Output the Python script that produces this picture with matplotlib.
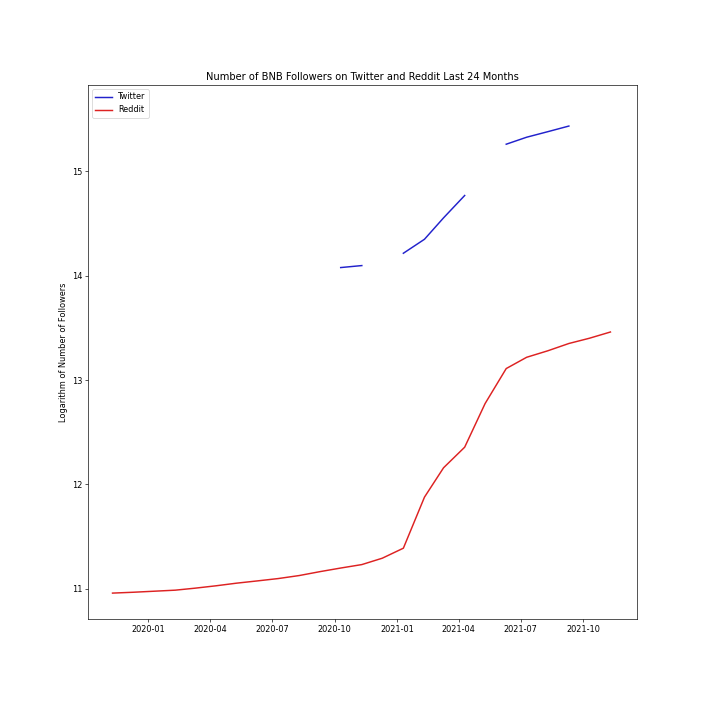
import numpy as np
import pandas as pd
import matplotlib
matplotlib.use("Agg")
import matplotlib.pyplot as plt

nan = np.nan
twitter = [nan, nan, nan, nan, nan, nan, nan, nan, nan, nan, nan,
           14.077, 14.096, nan, 14.214, 14.348, 14.553, 14.767, nan,
           15.258, 15.325, 15.378, 15.432, nan, nan]
reddit = [10.960, 10.968, 10.978, 10.988, 11.007, 11.030, 11.055, 11.077,
          11.099, 11.128, 11.166, 11.200, 11.233, 11.294, 11.390, 11.879,
          12.160, 12.357, 12.775, 13.110, 13.218, 13.280, 13.350, 13.400, 13.460]

# monthly, around the 10th, first date 2019-11-10
dates = pd.date_range("2019-11-01", periods=25, freq="MS") + pd.Timedelta(days=9)

DPI = 707 / 12
fig = plt.figure(figsize=(12, 12), dpi=DPI)
ax = fig.add_axes([88/707, 1 - 619/707, (637-88)/707, (619-85)/707])
ax.plot(dates, twitter, color="#2222cc", lw=1.8, label="Twitter")
ax.plot(dates, reddit, color="#dd2222", lw=1.8, label="Reddit")
ax.set_xlim(pd.Timestamp("2019-10-05"), pd.Timestamp("2021-12-19"))
ax.set_ylim(10.712, 15.825)
ax.set_title("Number of BNB Followers on Twitter and Reddit Last 24 Months")
ax.set_ylabel("Logarithm of Number of Followers")
ax.legend(loc="upper left")
fig.savefig("out.png", dpi=DPI)
